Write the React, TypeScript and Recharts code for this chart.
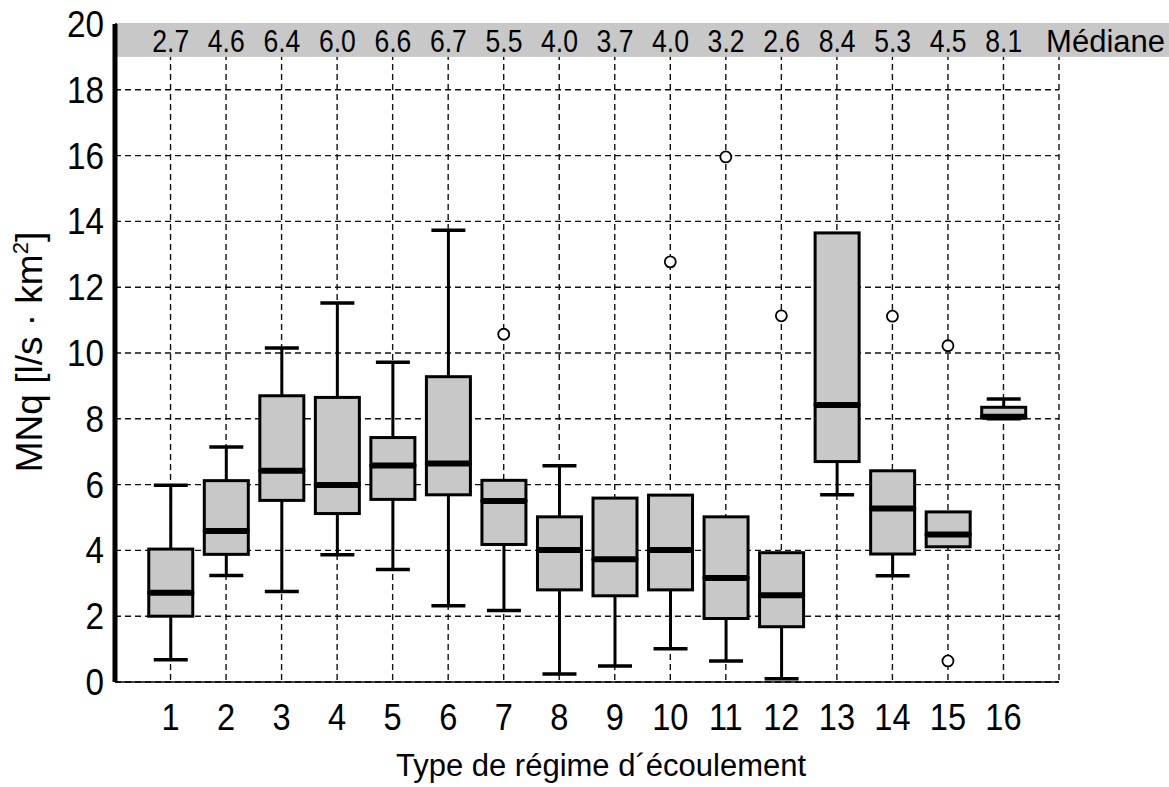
import { ComposedChart, Bar, Scatter, XAxis, YAxis, CartesianGrid, ReferenceArea, Label, LabelList } from "recharts";

// flow regime types and box statistics (l/s·km²)
const types = [1, 2, 3, 4, 5, 6, 7, 8, 9, 10, 11, 12, 13, 14, 15, 16];
const whiskerLow = [0.68, 3.24, 2.75, 3.87, 3.42, 2.32, 2.17, 0.24, 0.49, 1.01, 0.64, 0.1, 5.69, 3.23, 4.11, 8.0];
const q1 = [2.0, 3.88, 5.52, 5.12, 5.55, 5.69, 4.18, 2.8, 2.62, 2.8, 1.93, 1.68, 6.7, 3.89, 4.11, 8.03];
const medians = [2.71, 4.59, 6.42, 5.99, 6.58, 6.64, 5.5, 4.01, 3.73, 4.01, 3.16, 2.64, 8.42, 5.27, 4.48, 8.06];
const q3 = [4.04, 6.12, 8.7, 8.65, 7.43, 9.28, 6.13, 5.02, 5.59, 5.68, 5.02, 3.93, 13.65, 6.42, 5.17, 8.35];
const whiskerHigh = [5.98, 7.14, 10.15, 11.52, 9.72, 13.73, 6.13, 6.57, 5.59, 5.68, 5.02, 3.93, 13.65, 6.42, 5.17, 8.6];
const outliersA = [null, null, null, null, null, null, 10.57, null, null, 12.77, 15.96, 11.13, null, 11.12, 10.22, null];
const outliersB = [null, null, null, null, null, null, null, null, null, null, null, null, null, null, 0.64, null];
const medianLabels = ["2.7", "4.6", "6.4", "6.0", "6.6", "6.7", "5.5", "4.0", "3.7", "4.0", "3.2", "2.6", "8.4", "5.3", "4.5", "8.1"];
const yTicks = [0, 2, 4, 6, 8, 10, 12, 14, 16, 18, 20];

const rows = types.map((t, i) => ({
  type: t,
  base: whiskerLow[i],
  lowW: q1[i] - whiskerLow[i],
  lowBox: medians[i] - q1[i],
  highBox: q3[i] - medians[i],
  highW: whiskerHigh[i] - q3[i],
  outA: outliersA[i],
  outB: outliersB[i],
}));

const INK = "#000";
const GREY = "#c8c8c8";
const FONT = "'Liberation Sans', Arial, sans-serif";
const MARGIN = { top: 24, right: 110, bottom: 0, left: 40 };

function Txt({ x, y, size, anchor = "middle", sx = 1, rotate = 0, children }: any) {
  return (
    <text
      transform={`translate(${x},${y}) rotate(${rotate}) scale(${sx},1)`}
      fontSize={size}
      textAnchor={anchor}
      fontFamily={FONT}
      fill={INK}
    >
      {children}
    </text>
  );
}

const Empty = () => <g />;

function LowWhisker(p: any) {
  const { x, y, width, height } = p;
  if (!(height > 0.5)) return <g />;
  const cx = x + width / 2;
  return (
    <g>
      <line x1={cx} x2={cx} y1={y} y2={y + height} stroke={INK} strokeWidth={3} />
      <line x1={cx - 17} x2={cx + 17} y1={y + height} y2={y + height} stroke={INK} strokeWidth={3.5} />
    </g>
  );
}

function HighWhisker(p: any) {
  const { x, y, width, height } = p;
  if (!(height > 0.5)) return <g />;
  const cx = x + width / 2;
  return (
    <g>
      <line x1={cx} x2={cx} y1={y} y2={y + height} stroke={INK} strokeWidth={3} />
      <line x1={cx - 17} x2={cx + 17} y1={y} y2={y} stroke={INK} strokeWidth={3.5} />
    </g>
  );
}

function LowBox(p: any) {
  const { x, y, width, height } = p;
  return <rect x={x} y={y} width={width} height={Math.max(height, 0)} fill={GREY} stroke={INK} strokeWidth={3} />;
}

function HighBox(p: any) {
  const { x, y, width, height } = p;
  const h = Math.max(height, 0);
  return (
    <g>
      <rect x={x} y={y} width={width} height={h} fill={GREY} stroke={INK} strokeWidth={3} />
      <line x1={x} x2={x + width} y1={y + h} y2={y + h} stroke={INK} strokeWidth={6} />
    </g>
  );
}

const outlier = (key: string) => (p: any) => {
  if (p.payload == null || p.payload[key] == null || !isFinite(p.cy)) return <g />;
  return <circle cx={p.cx} cy={p.cy} r={5.5} fill="#fff" stroke={INK} strokeWidth={1.8} />;
};

function Band(p: any) {
  const { x, y, width, height } = p;
  return (
    <g>
      <rect x={x + 2} y={y - 1} width={width + MARGIN.right} height={height + 1} fill={GREY} />
      <Txt x={x + width + MARGIN.right - 4} y={y + 28} size={31} anchor="end">Médiane</Txt>
    </g>
  );
}

function MedianLabel(p: any) {
  const i = types.indexOf(Number(p.value));
  return <Txt x={p.x + p.width / 2} y={MARGIN.top + 28} size={32} sx={0.83}>{medianLabels[i]}</Txt>;
}

function XTick(p: any) {
  return <Txt x={p.x} y={p.y + 46} size={37} sx={0.88}>{p.payload.value}</Txt>;
}

function YTick(p: any) {
  return <Txt x={104} y={p.y + 13} size={37} sx={0.9} anchor="end">{p.payload.value}</Txt>;
}

function XTitle(p: any) {
  const vb = p.viewBox;
  return <Txt x={vb.x + vb.width / 2 + 14} y={vb.y + 94} size={31}>Type de régime d´écoulement</Txt>;
}

function YTitle() {
  return (
    <Txt x={42} y={352} size={37} rotate={-90}>
      MNq [l/s · km<tspan fontSize={22} dy={-14}>2</tspan>
      <tspan dy={14}>]</tspan>
    </Txt>
  );
}

export default function App() {
  return (
    <div style={{ position: "absolute", left: 0, top: 0, background: "#fff" }}>
      <ComposedChart width={1169} height={787} data={rows} margin={MARGIN}>
        <CartesianGrid stroke="#111" strokeWidth={1.4} strokeDasharray="6 4" />
        <ReferenceArea x1={0} x2={17} y1={19} y2={20} ifOverflow="visible" fillOpacity={1} shape={Band} />
        <XAxis
          dataKey="type"
          type="number"
          domain={[0, 17]}
          ticks={types}
          interval={0}
          height={105}
          axisLine={{ stroke: INK, strokeWidth: 1.5 }}
          tickLine={false}
          tickSize={0}
          tick={XTick}
        >
          <Label content={XTitle} />
        </XAxis>
        <YAxis
          type="number"
          domain={[0, 20]}
          ticks={yTicks}
          interval={0}
          width={75}
          axisLine={{ stroke: INK, strokeWidth: 5 }}
          tickLine={false}
          tickSize={0}
          tick={YTick}
        >
          <Label content={YTitle} />
        </YAxis>
        <Bar dataKey="base" stackId="box" barSize={44} shape={Empty} isAnimationActive={false}>
          <LabelList dataKey="type" content={MedianLabel} />
        </Bar>
        <Bar dataKey="lowW" stackId="box" barSize={44} shape={LowWhisker} isAnimationActive={false} />
        <Bar dataKey="lowBox" stackId="box" barSize={44} shape={LowBox} isAnimationActive={false} />
        <Bar dataKey="highBox" stackId="box" barSize={44} shape={HighBox} isAnimationActive={false} />
        <Bar dataKey="highW" stackId="box" barSize={44} shape={HighWhisker} isAnimationActive={false} />
        <Scatter dataKey="outA" shape={outlier("outA")} isAnimationActive={false} />
        <Scatter dataKey="outB" shape={outlier("outB")} isAnimationActive={false} />
      </ComposedChart>
    </div>
  );
}
